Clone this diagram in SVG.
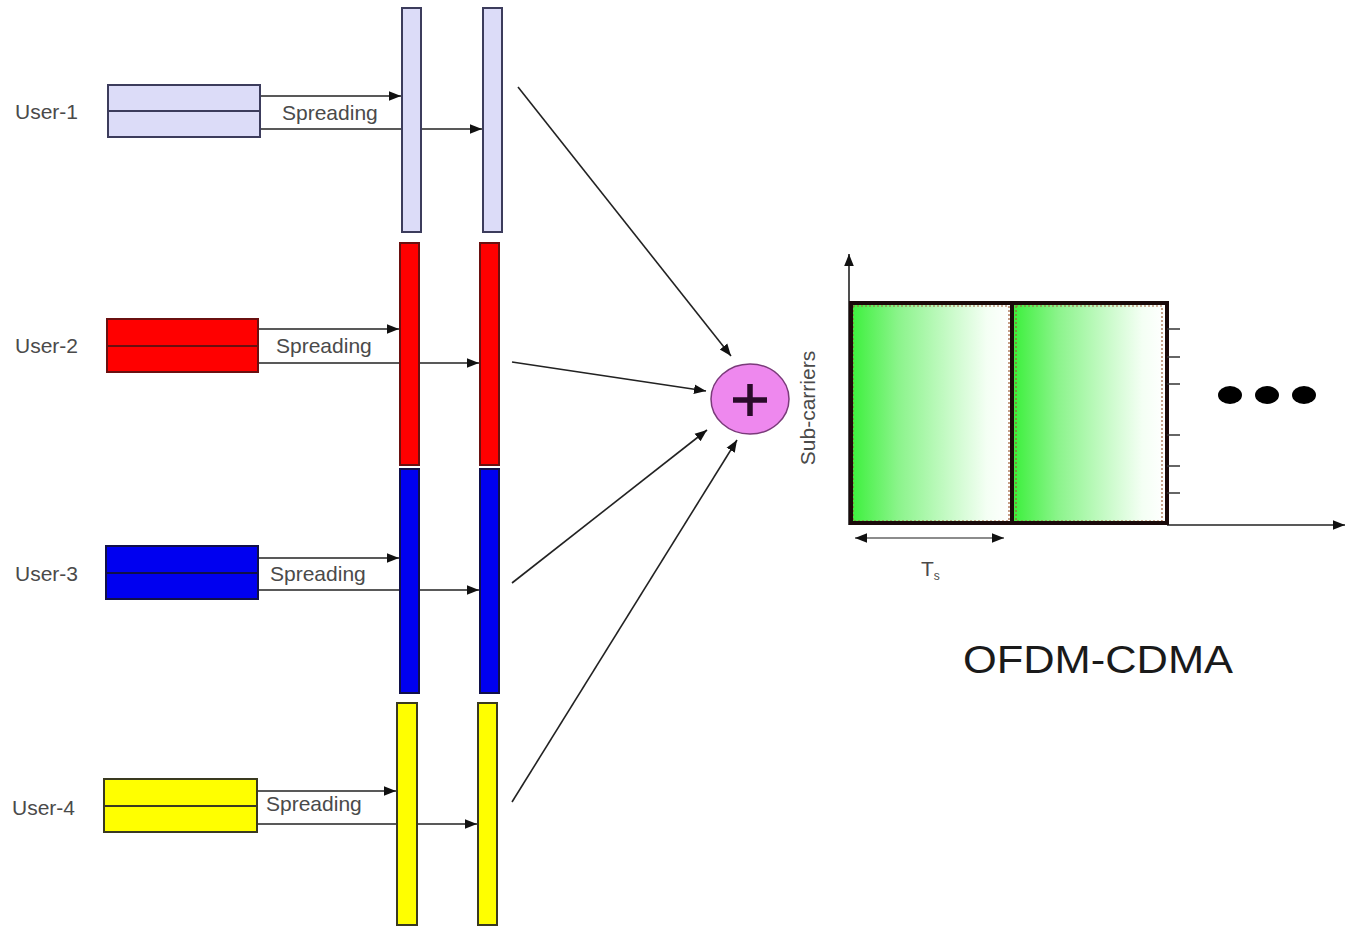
<svg xmlns="http://www.w3.org/2000/svg" width="1348" height="927" viewBox="0 0 1348 927">
  <style>
    .lbl { font-family: "Liberation Sans", Arial, sans-serif; font-size: 21px; fill: #4a4a4a; }
    .wire { stroke: #222; stroke-width: 1.6; fill: none; }
    .arr { marker-end: url(#ah); }
    .u1 { fill: #dcdcf8; stroke: #3c3c5c; stroke-width: 2; }
    .u2 { fill: #ff0000; stroke: #6a1010; stroke-width: 2; }
    .u3 { fill: #0000f0; stroke: #10104a; stroke-width: 2; }
    .u4 { fill: #ffff00; stroke: #3a3a20; stroke-width: 2; }
    .cell { fill: url(#green); }
    .inner { fill: none; stroke: #a0603a; stroke-width: 1.2; stroke-dasharray: 2 2; }
    .frame { fill: none; stroke: #1a0a0a; stroke-width: 4; }
    .tick { stroke: #333; stroke-width: 1.5; }
  </style>
  <defs>
    <marker id="ah" viewBox="0 0 10 10" refX="10" refY="5" markerWidth="12" markerHeight="12" markerUnits="userSpaceOnUse" orient="auto">
      <path d="M0,1 L10,5 L0,9 z" fill="#111"/>
    </marker>
    <marker id="ahs" viewBox="0 0 10 10" refX="0" refY="5" markerWidth="12" markerHeight="12" markerUnits="userSpaceOnUse" orient="auto">
      <path d="M10,1 L0,5 L10,9 z" fill="#111"/>
    </marker>
    <linearGradient id="green" x1="0" y1="0" x2="1" y2="0">
      <stop offset="0" stop-color="#3cf03c"/>
      <stop offset="0.3" stop-color="#8cf48c"/>
      <stop offset="0.85" stop-color="#f4fff4"/>
      <stop offset="1" stop-color="#ffffff"/>
    </linearGradient>
  </defs>
  <rect width="1348" height="927" fill="#ffffff"/>

  <!-- connectors -->
  <g id="connectors">
    <line class="wire arr" x1="260" y1="96" x2="401" y2="96"/>
    <line class="wire arr" x1="260" y1="129" x2="482" y2="129"/>
    <line class="wire arr" x1="258" y1="329" x2="399" y2="329"/>
    <line class="wire arr" x1="258" y1="363" x2="479" y2="363"/>
    <line class="wire arr" x1="258" y1="558" x2="399" y2="558"/>
    <line class="wire arr" x1="258" y1="590" x2="479" y2="590"/>
    <line class="wire arr" x1="257" y1="791" x2="396" y2="791"/>
    <line class="wire arr" x1="257" y1="824" x2="477" y2="824"/>
    <line class="wire arr" x1="518" y1="87" x2="731" y2="356"/>
    <line class="wire arr" x1="512" y1="362" x2="706" y2="391"/>
    <line class="wire arr" x1="512" y1="583" x2="707" y2="430"/>
    <line class="wire arr" x1="512" y1="802" x2="737" y2="440"/>
  </g>

  <!-- user 1 -->
  <g id="user1">
    <text class="lbl" x="15" y="119">User-1</text>
    <rect class="u1" x="108" y="85" width="152" height="26"/>
    <rect class="u1" x="108" y="111" width="152" height="26"/>
    <text class="lbl" x="282" y="120">Spreading</text>
    <rect class="u1" x="402" y="8" width="19" height="224"/>
    <rect class="u1" x="483" y="8" width="19" height="224"/>
  </g>

  <!-- user 2 -->
  <g id="user2">
    <text class="lbl" x="15" y="353">User-2</text>
    <rect class="u2" x="107" y="319" width="151" height="27"/>
    <rect class="u2" x="107" y="346" width="151" height="26"/>
    <text class="lbl" x="276" y="353">Spreading</text>
    <rect class="u2" x="400" y="243" width="19" height="222"/>
    <rect class="u2" x="480" y="243" width="19" height="222"/>
  </g>

  <!-- user 3 -->
  <g id="user3">
    <text class="lbl" x="15" y="581">User-3</text>
    <rect class="u3" x="106" y="546" width="152" height="27"/>
    <rect class="u3" x="106" y="573" width="152" height="26"/>
    <text class="lbl" x="270" y="581">Spreading</text>
    <rect class="u3" x="400" y="469" width="19" height="224"/>
    <rect class="u3" x="480" y="469" width="19" height="224"/>
  </g>

  <!-- user 4 -->
  <g id="user4">
    <text class="lbl" x="12" y="815">User-4</text>
    <rect class="u4" x="104" y="779" width="153" height="27"/>
    <rect class="u4" x="104" y="806" width="153" height="26"/>
    <text class="lbl" x="266" y="811">Spreading</text>
    <rect class="u4" x="397" y="703" width="20" height="222"/>
    <rect class="u4" x="478" y="703" width="19" height="222"/>
  </g>

  <!-- summing node -->
  <g id="adder">
    <ellipse cx="750" cy="399" rx="39" ry="35" fill="#ee88ee" stroke="#7a3a7a" stroke-width="1.5"/>
    <path d="M733,400 H767 M750,384 V416" stroke="#2a0a2a" stroke-width="5.5"/>
  </g>

  <!-- time/frequency grid -->
  <g id="ofdm-grid">
    <line class="wire" x1="849" y1="525" x2="849" y2="254" marker-end="url(#ah)"/>
    <line class="wire" x1="1167" y1="525" x2="1345" y2="525" marker-end="url(#ah)"/>
    <rect class="cell" x="851" y="304" width="160" height="219"/>
    <rect class="cell" x="1013" y="304" width="152" height="219"/>
    <rect class="inner" x="853" y="306" width="156" height="215"/>
    <rect class="inner" x="1016" y="306" width="146" height="215"/>
    <rect class="frame" x="851" y="303" width="316" height="220"/>
    <line class="frame" x1="1012" y1="303" x2="1012" y2="523"/>
    <g class="tick">
      <line x1="1167" y1="329" x2="1180" y2="329"/>
      <line x1="1167" y1="357" x2="1180" y2="357"/>
      <line x1="1167" y1="384" x2="1180" y2="384"/>
      <line x1="1167" y1="435" x2="1180" y2="435"/>
      <line x1="1167" y1="466" x2="1180" y2="466"/>
      <line x1="1167" y1="493" x2="1180" y2="493"/>
    </g>
    <line x1="855" y1="538" x2="1004" y2="538" stroke="#666" stroke-width="1.6" marker-start="url(#ahs)" marker-end="url(#ah)"/>
    <text class="lbl" x="921" y="576" font-size="21"><tspan>T</tspan><tspan font-size="12" dy="4">s</tspan></text>
    <text class="lbl" transform="translate(815,408) rotate(-90)" text-anchor="middle" font-size="19">Sub-carriers</text>
    <ellipse cx="1230" cy="395" rx="12" ry="9" fill="#000"/>
    <ellipse cx="1267" cy="395" rx="12" ry="9" fill="#000"/>
    <ellipse cx="1304" cy="395" rx="12" ry="9" fill="#000"/>
  </g>

  <text id="title" x="963" y="673" font-family="&quot;Liberation Sans&quot;, Arial, sans-serif" font-size="38" fill="#1a1a1a" textLength="270" lengthAdjust="spacingAndGlyphs">OFDM-CDMA</text>
</svg>
